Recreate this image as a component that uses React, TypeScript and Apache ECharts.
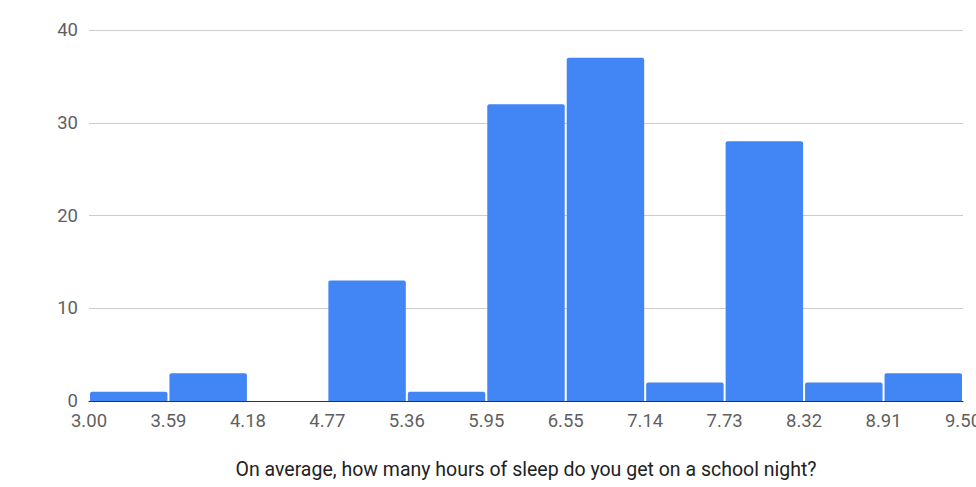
import React, { useEffect, useRef } from "react";
import * as echarts from "echarts";

// Histogram bins: 11 equal-width bins from 3.00 to 9.50 hours
const binStart = 3.0;
const binEnd = 9.5;
const binCount = 11;
const counts = [1, 3, 0, 13, 1, 32, 37, 2, 28, 2, 3];
const yTicks = [0, 10, 20, 30, 40];
const axisTitle = "On average, how many hours of sleep do you get on a school night?";

const binWidth = (binEnd - binStart) / binCount;

export default function App() {
  const ref = useRef<HTMLDivElement>(null);

  useEffect(() => {
    if (!ref.current) return;
    const chart = echarts.init(ref.current, undefined, { renderer: "svg" });
    const font = "Roboto, 'Noto Sans', sans-serif";
    chart.setOption({
      animation: false,
      grid: {
        left: 89,
        right: 13,
        top: 30,
        bottom: 86,
        containLabel: false,
        outerBoundsMode: "none",
      },
      xAxis: {
        type: "value",
        min: 0,
        max: binCount,
        interval: 1,
        name: axisTitle,
        nameLocation: "middle",
        nameGap: 58,
        nameTextStyle: { color: "#222", fontSize: 19.5, fontFamily: font, lineHeight: 20 },
        axisLine: { show: true, lineStyle: { color: "#333", width: 1 } },
        axisTick: { show: false },
        splitLine: { show: false },
        axisLabel: {
          color: "#5f5f5f",
          fontSize: 18.5,
          lineHeight: 16,
          fontFamily: font,
          margin: 12,
          showMaxLabel: true,
          showMinLabel: true,
          hideOverlap: false,
          formatter: (v: number) => (binStart + v * binWidth).toFixed(2),
        },
      },
      yAxis: {
        type: "value",
        min: yTicks[0],
        max: yTicks[yTicks.length - 1],
        interval: 10,
        axisLine: { show: false },
        axisTick: { show: false },
        splitLine: { lineStyle: { color: "#cccccc", width: 1 } },
        axisLabel: { color: "#5f5f5f", fontSize: 18.5, lineHeight: 16, fontFamily: font, margin: 11 },
      },
      series: [
        {
          type: "custom",
          data: counts.map((c, i) => [i, c]),
          renderItem: (params: any, api: any) => {
            const i = api.value(0);
            const c = api.value(1);
            if (!c) return null;
            const p0 = api.coord([i, c]);
            const p1 = api.coord([i + 1, 0]);
            const x = p0[0] + 1;
            const w = p1[0] - p0[0] - 2;
            return {
              type: "rect",
              shape: { x, y: p0[1], width: w, height: p1[1] - p0[1], r: [2, 2, 0, 0] },
              style: { fill: "#4285F4" },
            };
          },
          z: 1,
        },
      ],
    });
    return () => chart.dispose();
  }, []);

  return (
    <div
      ref={ref}
      style={{ position: "fixed", left: 0, top: 0, width: 976, height: 487, background: "#fff" }}
    />
  );
}
